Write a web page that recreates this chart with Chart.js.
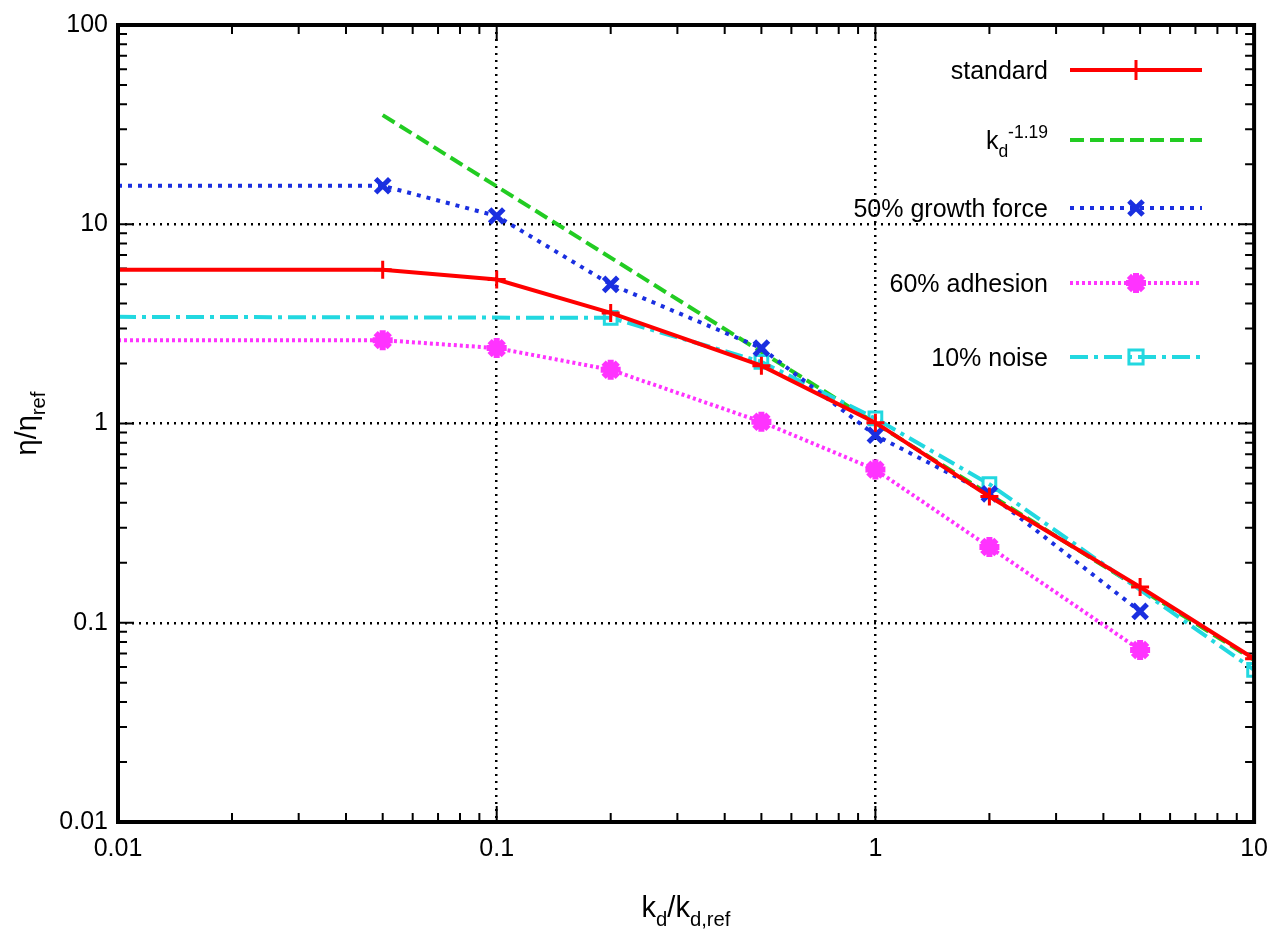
<!DOCTYPE html>
<html>
<head>
<meta charset="utf-8">
<script src="https://cdn.jsdelivr.net/npm/chart.js@4"></script>
<style>
  html, body { margin: 0; padding: 0; background: #fff; }
  #wrap { width: 1280px; height: 943px; }
</style>
</head>
<body>
<div id="wrap"><canvas id="chart"></canvas></div>
<script>
// values
const standardX = [0.01, 0.05, 0.1, 0.2, 0.5, 1, 2, 5, 10];
const standardY = [5.91, 5.91, 5.28, 3.59, 1.95, 1.01, 0.43, 0.151, 0.066];

const powerX = [0.05, 10];
const powerY = [35.3, 0.065];

const growthX = [0.01, 0.05, 0.1, 0.2, 0.5, 1, 2, 5];
const growthY = [15.6, 15.6, 11.0, 4.99, 2.39, 0.873, 0.443, 0.114];

const adhesionX = [0.01, 0.05, 0.1, 0.2, 0.5, 1, 2, 5];
const adhesionY = [2.62, 2.62, 2.39, 1.86, 1.02, 0.587, 0.24, 0.073];

const noiseX = [0.01, 0.2, 0.5, 1, 2, 10];
const noiseY = [3.43, 3.39, 2.04, 1.06, 0.496, 0.058];

const xTickLabels = ['0.01', '0.1', '1', '10'];
const yTickLabels = ['0.01', '0.1', '1', '10', '100'];

const FONT = '"Liberation Sans", Arial, sans-serif';

function pts(xs, ys) { return xs.map((x, i) => ({ x: x, y: ys[i] })); }
// no marker on the flat lead-in point at x = 0.01
function radii(xs, r) { return xs.map(x => x === 0.01 ? 0 : r); }

function logTicks(min, max) {
  const t = [];
  for (let e = Math.log10(min); e < Math.log10(max); e++) {
    for (let m = 1; m < 10; m++) t.push({ value: m * Math.pow(10, e) });
  }
  t.push({ value: max });
  return t;
}
function isMajor(v) { return Math.abs(Math.log10(v) - Math.round(Math.log10(v))) < 1e-9; }
function label(v, list) {
  return isMajor(v) ? list.find(s => Math.abs(parseFloat(s) - v) < v * 1e-6) : '';
}

const datasets = [
  {
    label: 'standard', data: pts(standardX, standardY), order: 1,
    borderColor: '#ff0000', borderWidth: 4,
    pointStyle: 'cross', pointRadius: radii(standardX, 9), pointBorderWidth: 3,
    pointBorderColor: '#ff0000'
  },
  {
    label: 'kd^-1.19', data: pts(powerX, powerY), order: 5,
    borderColor: '#22cc22', borderWidth: 4, borderDash: [14, 6], pointRadius: 0
  },
  {
    label: '50% growth force', data: pts(growthX, growthY), order: 2,
    borderColor: '#1a2fe0', borderWidth: 4, borderDash: [4, 6],
    pointStyle: 'crossRot', pointRadius: radii(growthX, 10), pointBorderWidth: 5,
    pointBorderColor: '#1a2fe0'
  },
  {
    label: '60% adhesion', data: pts(adhesionX, adhesionY), order: 3,
    borderColor: '#ff33ff', borderWidth: 4, borderDash: [3, 3],
    pointStyle: 'star', pointRadius: radii(adhesionX, 10), pointBorderWidth: 6,
    pointBorderColor: '#ff33ff', pointBackgroundColor: '#ff33ff'
  },
  {
    label: '10% noise', data: pts(noiseX, noiseY), order: 4,
    borderColor: '#22d8e0', borderWidth: 4, borderDash: [18, 6, 4, 6],
    pointStyle: 'rect', pointRadius: radii(noiseX, 9), pointBorderWidth: 3,
    pointBackgroundColor: 'rgba(0,0,0,0)', pointBorderColor: '#22d8e0'
  }
];

// text with sub/superscript runs: [text, mode] where mode is '', 'sub' or 'sup'
function drawRich(ctx, runs, x, y, size, align) {
  let w = 0;
  runs.forEach(r => {
    ctx.font = (r[1] ? size * 0.7 : size) + 'px ' + FONT;
    w += ctx.measureText(r[0]).width;
  });
  let cx = align === 'right' ? x - w : align === 'center' ? x - w / 2 : x;
  ctx.textAlign = 'left';
  ctx.textBaseline = 'alphabetic';
  runs.forEach(r => {
    const s = r[1] ? size * 0.7 : size;
    ctx.font = s + 'px ' + FONT;
    const dy = r[1] === 'sub' ? size * 0.3 : r[1] === 'sup' ? -size * 0.45 : 0;
    ctx.fillText(r[0], cx, y + dy);
    cx += ctx.measureText(r[0]).width;
  });
}

const legendRuns = [
  [['standard', '']],
  [['k', ''], ['d', 'sub'], ['-1.19', 'sup']],
  [['50% growth force', '']],
  [['60% adhesion', '']],
  [['10% noise', '']]
];
const legendRows = [70, 140, 208, 283, 357];

const framePlugin = {
  id: 'frame',
  beforeDatasetsDraw(chart) {
    // inward tick marks
    const ctx = chart.ctx, a = chart.chartArea;
    const xs = chart.scales.x, ys = chart.scales.y;
    ctx.save();
    ctx.strokeStyle = '#000';
    ctx.lineWidth = 2;
    xs.ticks.forEach(t => {
      const px = xs.getPixelForValue(t.value);
      const len = isMajor(t.value) ? 16 : 9;
      ctx.beginPath();
      ctx.moveTo(px, a.bottom); ctx.lineTo(px, a.bottom - len);
      ctx.moveTo(px, a.top); ctx.lineTo(px, a.top + len);
      ctx.stroke();
    });
    ys.ticks.forEach(t => {
      const py = ys.getPixelForValue(t.value);
      const len = isMajor(t.value) ? 16 : 9;
      ctx.beginPath();
      ctx.moveTo(a.left, py); ctx.lineTo(a.left + len, py);
      ctx.moveTo(a.right, py); ctx.lineTo(a.right - len, py);
      ctx.stroke();
    });
    ctx.restore();
  },
  afterDraw(chart) {
    const ctx = chart.ctx, a = chart.chartArea;
    ctx.save();
    ctx.strokeStyle = '#000';
    ctx.lineWidth = 4;
    ctx.strokeRect(a.left, a.top, a.right - a.left, a.bottom - a.top);
    ctx.fillStyle = '#000';

    // axis titles
    drawRich(ctx, [['k', ''], ['d', 'sub'], ['/k', ''], ['d,ref', 'sub']],
      (a.left + a.right) / 2, 917, 29, 'center');
    ctx.save();
    ctx.translate(36, (a.top + a.bottom) / 2);
    ctx.rotate(-Math.PI / 2);
    drawRich(ctx, [['\u03b7/\u03b7', ''], ['ref', 'sub']], 0, 0, 29, 'center');
    ctx.restore();

    // legend, gnuplot style: text right-aligned, sample to the right
    chart.data.datasets.forEach((ds, i) => {
      const y = legendRows[i];
      ctx.fillStyle = '#000';
      drawRich(ctx, legendRuns[i], 1048, y + 9, 25, 'right');
      ctx.strokeStyle = ds.borderColor;
      ctx.lineWidth = ds.borderWidth;
      ctx.setLineDash(ds.borderDash || []);
      ctx.beginPath();
      ctx.moveTo(1070, y); ctx.lineTo(1202, y);
      ctx.stroke();
      ctx.setLineDash([]);
      if (ds.pointStyle) {
        ctx.strokeStyle = ds.pointBorderColor;
        ctx.lineWidth = ds.pointBorderWidth;
        ctx.fillStyle = ds.pointBackgroundColor || ds.pointBorderColor;
        Chart.helpers.drawPoint(ctx, {
          pointStyle: ds.pointStyle, radius: 10, rotation: 0,
          borderWidth: ds.pointBorderWidth
        }, 1136, y);
      }
    });
    ctx.restore();
  }
};

new Chart(document.getElementById('chart'), {
  type: 'line',
  data: { datasets: datasets },
  options: {
    responsive: true,
    maintainAspectRatio: false,
    animation: false,
    layout: { padding: { top: -8, right: 3, left: 0, bottom: 0 } },
    plugins: { legend: { display: false }, tooltip: { enabled: false } },
    elements: { line: { tension: 0, fill: false } },
    scales: {
      x: {
        type: 'logarithmic', min: 0.01, max: 10,
        afterBuildTicks: s => { s.ticks = logTicks(0.01, 10); },
        afterFit: s => { s.height = 121; },
        border: { display: false, dash: [2, 5] },
        grid: {
          drawTicks: false,
          color: c => (c.tick && isMajor(c.tick.value) && c.tick.value > 0.01 && c.tick.value < 10) ? '#000' : 'rgba(0,0,0,0)',
          lineWidth: 2.5
        },
        ticks: {
          autoSkip: false, maxRotation: 0, padding: 12,
          color: '#000', font: { family: FONT, size: 25 },
          callback: v => label(v, xTickLabels)
        }
      },
      y: {
        type: 'logarithmic', min: 0.01, max: 100,
        afterBuildTicks: s => { s.ticks = logTicks(0.01, 100); },
        afterFit: s => { s.width = 118; },
        border: { display: false, dash: [2, 5] },
        grid: {
          drawTicks: false,
          color: c => (c.tick && isMajor(c.tick.value) && c.tick.value > 0.01 && c.tick.value < 100) ? '#000' : 'rgba(0,0,0,0)',
          lineWidth: 2.5
        },
        ticks: {
          autoSkip: false, padding: 10,
          color: '#000', font: { family: FONT, size: 25 },
          callback: v => label(v, yTickLabels)
        }
      }
    }
  },
  plugins: [framePlugin]
});
</script>
</body>
</html>
